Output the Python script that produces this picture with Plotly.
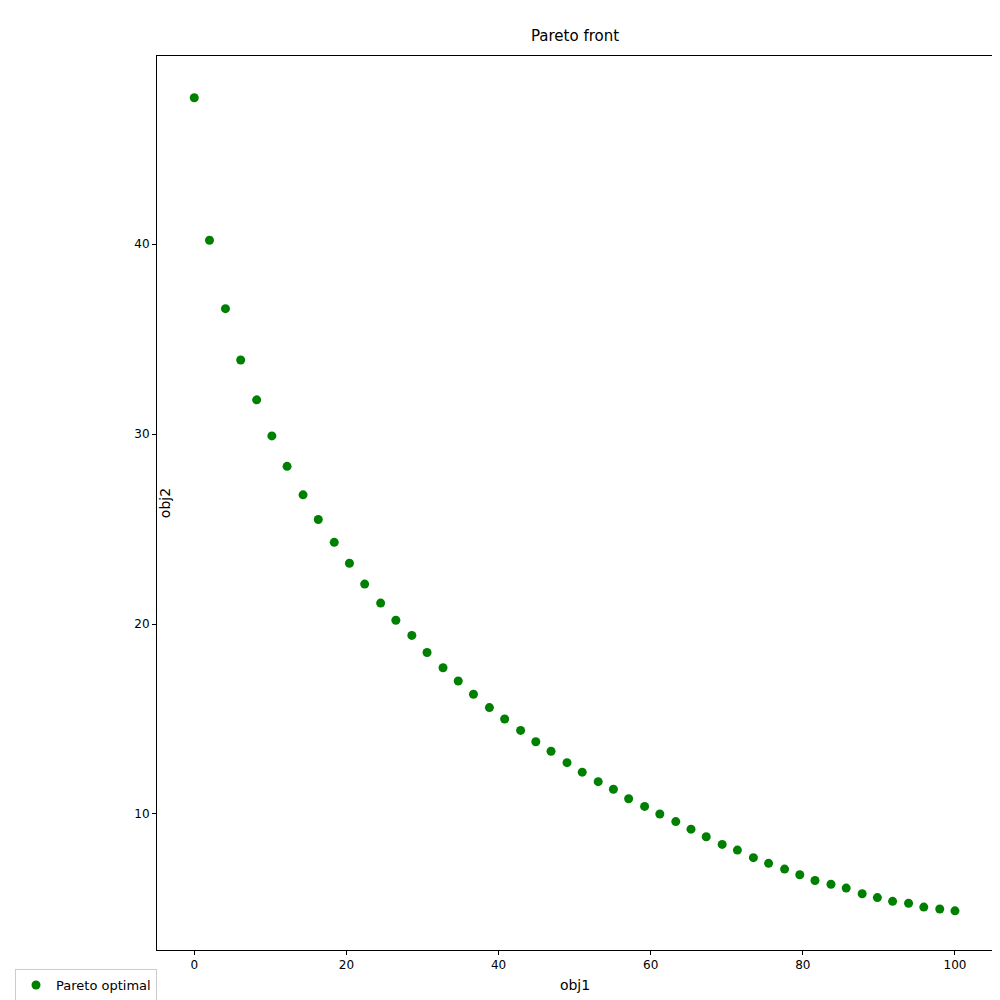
import plotly.graph_objects as go

obj1 = [0, 2.0, 4.1, 6.1, 8.2, 10.2, 12.2, 14.3, 16.3, 18.4, 20.4, 22.4, 24.5, 26.5, 28.6,
        30.6, 32.7, 34.7, 36.7, 38.8, 40.8, 42.9, 44.9, 46.9, 49.0, 51.0, 53.1, 55.1, 57.1,
        59.2, 61.2, 63.3, 65.3, 67.3, 69.4, 71.4, 73.5, 75.5, 77.6, 79.6, 81.6, 83.7, 85.7,
        87.8, 89.8, 91.8, 93.9, 95.9, 98.0, 100.0]
obj2 = [47.7, 40.2, 36.6, 33.9, 31.8, 29.9, 28.3, 26.8, 25.5, 24.3,
        23.2, 22.1, 21.1, 20.2, 19.4, 18.5, 17.7, 17.0, 16.3, 15.6,
        15.0, 14.4, 13.8, 13.3, 12.7, 12.2, 11.7, 11.3, 10.8, 10.4,
        10.0, 9.6, 9.2, 8.8, 8.4, 8.1, 7.7, 7.4, 7.1, 6.8,
        6.5, 6.3, 6.1, 5.8, 5.6, 5.4, 5.3, 5.1, 5.0, 4.9]

fig = go.Figure(go.Scatter(x=obj1, y=obj2, mode='markers', name='Pareto optimal',
                           marker=dict(color='green', size=9)))

axis = dict(showgrid=False, zeroline=False, showline=True, linecolor='black', mirror=True,
            ticks='outside', ticklen=4, tickcolor='black', tickfont=dict(size=12), automargin=False)
fig.update_layout(
    width=1000, height=1000, plot_bgcolor='white', paper_bgcolor='white',
    font=dict(family='DejaVu Sans', size=12, color='black'),
    title=dict(text='Pareto front', x=0.5, y=0.972, xanchor='center', yanchor='middle',
               xref='paper', font=dict(size=15)),
    margin=dict(l=62, r=15, t=48, b=58),
    xaxis=dict(axis, title=dict(text='obj1', standoff=8), range=[-4.9, 105], tickvals=[0, 20, 40, 60, 80, 100]),
    yaxis=dict(axis, title=dict(text='obj2', standoff=8), range=[2.84, 49.9], tickvals=[10, 20, 30, 40]),
    showlegend=True,
    legend=dict(xref='container', yref='container', x=0.007, y=0.007, xanchor='left', yanchor='bottom',
                bordercolor='#ccc', borderwidth=1, font=dict(size=13)),
)
fig.write_html("out.html")
